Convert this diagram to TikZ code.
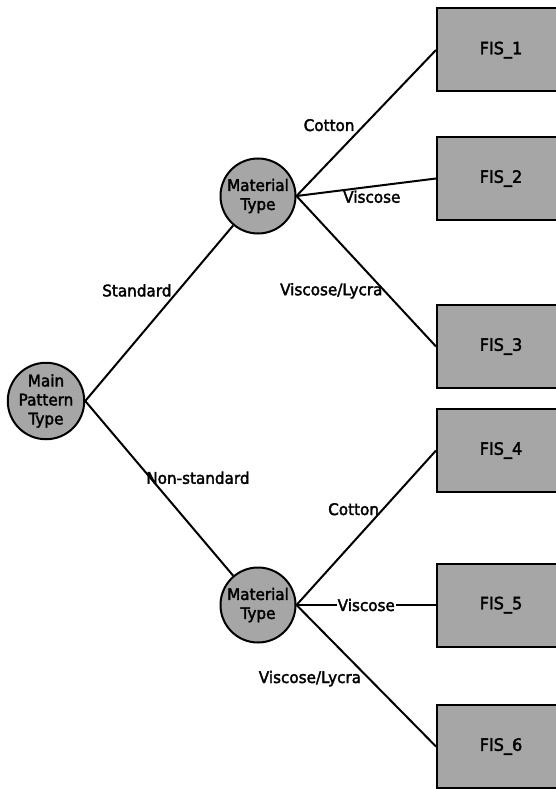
\documentclass[tikz,border=0pt]{standalone}
\usepackage{fontspec}
\setmainfont{DejaVu Sans}[FakeStretch=0.95, FakeBold=2.2]
\usetikzlibrary{positioning}
\definecolor{nodegray}{RGB}{166,166,166}
\tikzset{
    decision/.style={draw, circle, fill=nodegray, line width=2pt, minimum size=75pt, inner sep=0pt, align=center, font=\fontsize{16}{19}\selectfont},
    fisbox/.style={draw, rectangle, fill=nodegray, line width=2pt, minimum width=128pt, minimum height=83pt, font=\fontsize{17}{19}\selectfont},
    branch/.style={line width=2pt},
    lbl/.style={font=\fontsize{16}{19}\selectfont, inner sep=1pt}
}

\begin{document}
\begin{tikzpicture}[x=1pt, y=-1pt]
    \useasboundingbox (0,0) rectangle (555,789);
    % Decision nodes
    \node[decision] (main) at (46,401) {Main\\Pattern\\Type};
    \node[decision] (mtstd) at (258,196) {Material\\Type};
    \node[decision] (mtnon) at (258,605) {Material\\Type};
    % Leaf boxes
    \node[fisbox] (fis1) at (501,50) {FIS\_1};
    \node[fisbox] (fis2) at (501,178.5) {FIS\_2};
    \node[fisbox] (fis3) at (501,346.5) {FIS\_3};
    \node[fisbox] (fis4) at (501,450.5) {FIS\_4};
    \node[fisbox] (fis5) at (501,605) {FIS\_5};
    \node[fisbox] (fis6) at (501,746.5) {FIS\_6};
    % Pattern branches
    \draw[branch] (main.east) -- (mtstd) node[lbl, pos=0.63, left=5pt] {Standard};
    \draw[branch] (main.east) -- (mtnon) node[lbl, pos=0.44, right=0pt, xshift=-6pt] {Non-standard};
    % Material branches (standard)
    \draw[branch] (mtstd.east) -- (fis1.west) node[lbl, pos=0.43, above left] {Cotton};
    \draw[branch] (mtstd.east) -- (fis2.west) node[lbl, pos=0.54, below=2pt] {Viscose};
    \draw[branch] (mtstd.east) -- (fis3.west) node[lbl, pos=0.63, left] {Viscose/Lycra};
    % Material branches (non-standard)
    \draw[branch] (mtnon.east) -- (fis4.west) node[lbl, pos=0.62, left=2pt] {Cotton};
    \draw[branch] (mtnon.east) -- (fis5.west) node[lbl, midway, fill=white] {Viscose};
    \draw[branch] (mtnon.east) -- (fis6.west) node[lbl, pos=0.52, left=6pt] {Viscose/Lycra};
\end{tikzpicture}
\end{document}
